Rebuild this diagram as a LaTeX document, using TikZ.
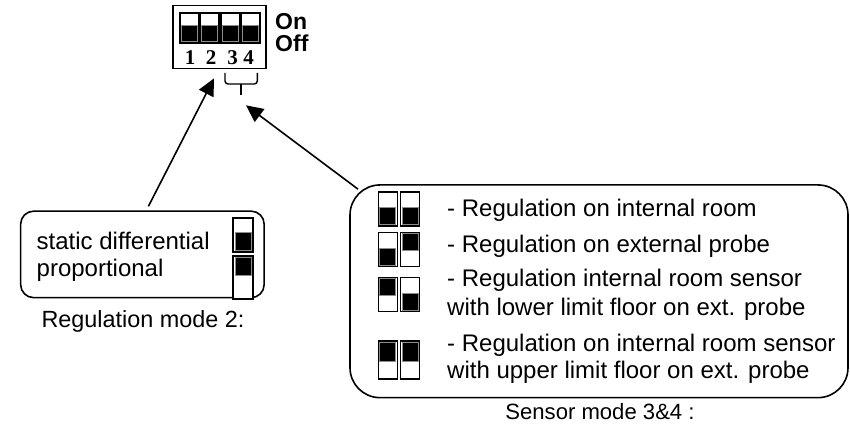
\documentclass[tikz,border=0pt]{standalone}
\usepackage{fontspec}
\setmainfont{Liberation Sans}
\newfontfamily\numfont{Liberation Serif}
\usetikzlibrary{arrows.meta}
\tikzstyle{panel} = [draw, line width=1.6pt, rectangle, rounded corners=13pt, inner sep=0pt]
\tikzstyle{sw} = [draw, line width=1.5pt, rectangle, fill=white, inner sep=0pt, minimum width=19pt]
\tikzstyle{knob} = [draw=black!45, line width=0.8pt, fill=black, rectangle, inner sep=0pt, minimum width=16pt]
\tikzstyle{txt} = [inner sep=0pt, anchor=base west, font=\fontsize{24}{28}\selectfont]
\tikzstyle{dig} = [inner sep=0pt, anchor=base, font=\numfont\bfseries\fontsize{21}{21}\selectfont]
\tikzstyle{pointer} = [-{Triangle[length=17pt,width=16pt]}, line width=1.6pt]

\begin{document}
\begin{tikzpicture}[x=1pt,y=-1pt]
    \useasboundingbox (0,0) rectangle (850,427);

    % dip switch block
    \node [draw, line width=1.7pt, inner sep=0pt, minimum width=93pt, minimum height=63pt, name=dip] at (219.7,37) {};
    \node [sw, minimum height=30pt, name=d1] at (189.3,28) {};
    \node [sw, minimum height=30pt, name=d2] at (209.6,28) {};
    \node [sw, minimum height=30pt, name=d3] at (230.3,28) {};
    \node [sw, minimum height=30pt, name=d4] at (250.3,28) {};
    \node [knob, minimum height=16pt, anchor=south, name=k1] at ([yshift=1.6pt]d1.south) {};
    \node [knob, minimum height=16pt, anchor=south, name=k2] at ([yshift=1.6pt]d2.south) {};
    \node [knob, minimum height=16pt, anchor=south, name=k3] at ([yshift=1.6pt]d3.south) {};
    \node [knob, minimum height=16pt, anchor=south, name=k4] at ([yshift=1.6pt]d4.south) {};
    \node [dig, name=n1] at (190,64.5) {1};
    \node [dig, name=n2] at (211,64.5) {2};
    \node [dig, name=n3] at (232.7,64.5) {3};
    \node [dig, name=n4] at (248.7,64.5) {4};
    \node [txt, font=\bfseries\fontsize{23}{23}\selectfont, name=on] at (275,30) {On};
    \node [txt, font=\bfseries\fontsize{23}{23}\selectfont, name=off] at (275,52) {Off};

    % brace under 3 and 4
    \draw [line width=1.4pt, rounded corners=3pt] (225,73) -- (225,84) -- (257.3,84) -- (257.3,73);
    \draw [line width=1.4pt] (241,84) -- (241,95);

    % regulation mode
    \node [panel, minimum width=243.5pt, minimum height=86.5pt, name=reg] at (142.4,254.4) {};
    \node [txt, name=stat] at (36.5,249.5) {static differential};
    \node [txt, name=prop] at (36.5,276.5) {proportional};
    \node [sw, minimum height=34pt, minimum width=20pt, name=r1] at (243.2,235) {};
    \node [sw, minimum height=43pt, minimum width=20pt, name=r2] at (243.2,277.5) {};
    \node [knob, minimum height=18pt, anchor=south, name=rk1] at ([yshift=1.6pt]r1.south) {};
    \node [knob, minimum height=18pt, anchor=north, name=rk2] at ([yshift=-1.6pt]r2.north) {};
    \node [txt, anchor=base, font=\fontsize{23.4}{28}\selectfont, name=regcap] at (143,327.5) {Regulation mode 2:};

    % sensor mode
    \node [panel, rounded corners=30pt, minimum width=498pt, minimum height=212.7pt, name=sens] at (599,291.3) {};
    \node [sw, minimum height=34pt, name=a1] at (387.8,209) {};
    \node [sw, minimum height=34pt, name=a2] at (410.2,209) {};
    \node [knob, minimum height=17pt, anchor=south, name=ak1] at ([yshift=1.6pt]a1.south) {};
    \node [knob, minimum height=17pt, anchor=south, name=ak2] at ([yshift=1.6pt]a2.south) {};
    \node [txt, name=ta] at (447,216.7) {- Regulation on internal room};

    \node [sw, minimum height=34pt, name=b1] at (387.8,249.5) {};
    \node [sw, minimum height=34pt, name=b2] at (410.2,249.5) {};
    \node [knob, minimum height=17pt, anchor=south, name=bk1] at ([yshift=1.6pt]b1.south) {};
    \node [knob, minimum height=17pt, anchor=north, name=bk2] at ([yshift=-1.6pt]b2.north) {};
    \node [txt, name=tb] at (447,253) {- Regulation on external probe};

    \node [sw, minimum height=34pt, name=c1] at (387.8,294.5) {};
    \node [sw, minimum height=34pt, name=c2] at (410.2,294.5) {};
    \node [knob, minimum height=17pt, anchor=north, name=ck1] at ([yshift=-1.6pt]c1.north) {};
    \node [knob, minimum height=17pt, anchor=south, name=ck2] at ([yshift=1.6pt]c2.south) {};
    \node [txt, name=tc] at (447,286.7) {- Regulation internal room sensor};
    \node [txt, name=tcc] at (447,315) {with lower limit floor on ext. probe};

    \node [sw, minimum height=38pt, name=e1] at (387.8,360) {};
    \node [sw, minimum height=38pt, name=e2] at (410.2,360) {};
    \node [knob, minimum height=19pt, anchor=north, name=ek1] at ([yshift=-1.6pt]e1.north) {};
    \node [knob, minimum height=19pt, anchor=north, name=ek2] at ([yshift=-1.6pt]e2.north) {};
    \node [txt, name=te] at (447,351.7) {- Regulation on internal room sensor};
    \node [txt, name=tee] at (447,378.5) {with upper limit floor on ext. probe};
    \node [txt, anchor=base, font=\fontsize{22.1}{28}\selectfont, name=senscap] at (600,419) {Sensor mode 3\&4 :};

    \draw [pointer] ([shift={(6pt,4pt)}]reg.north) -- ([shift={(-5.7pt,-9pt)}]dip.south);
    \draw [pointer] ([shift={(-241pt,-5pt)}]sens.north) -- ([shift={(26.3pt,-36pt)}]dip.south);

\end{tikzpicture}
\end{document}
